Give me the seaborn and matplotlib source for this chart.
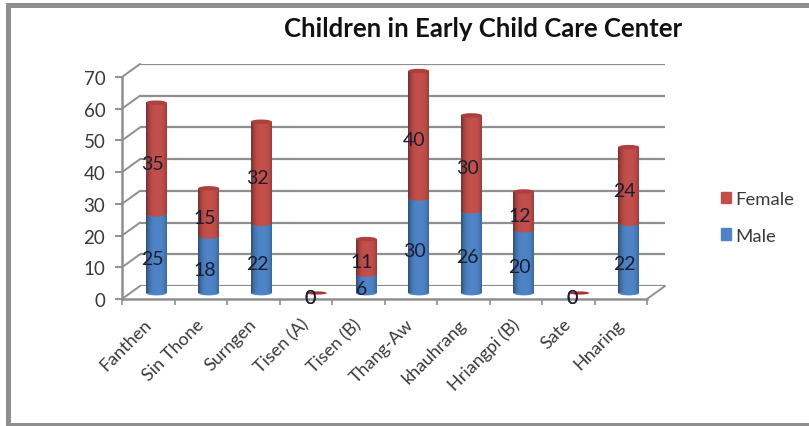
import numpy as np
import matplotlib
matplotlib.use("Agg")
import matplotlib.pyplot as plt
import seaborn as sns
from matplotlib.patches import Ellipse, Patch, Rectangle
from matplotlib.transforms import ScaledTranslation

centers = ["Fanthen", "Sin Thone", "Surngen", "Tisen (A)", "Tisen (B)", "Thang-Aw",
           "khauhrang", "Hriangpi (B)", "Sate", "Hnaring"]
male = [25, 18, 22, 0, 6, 30, 26, 20, 0, 22]
female = [35, 15, 32, 0, 11, 40, 30, 12, 0, 24]
y_ticks = [0, 10, 20, 30, 40, 50, 60, 70]

W, H = 809, 427
BLUE, RED = "#4e84c6", "#c34f4b"
TEXT, GRID = "#3a3a3a", "#8f8f8f"

sns.set_theme(style="white")
plt.rcParams["font.family"] = ["Lato", "DejaVu Sans"]

fig = plt.figure(figsize=(W / 100, H / 100), dpi=100, facecolor="white")


def box(left, right, top, bottom):
    return [left / W, (H - bottom) / H, (right - left) / W, (bottom - top) / H]


def panel(rect, **kw):
    ax = fig.add_axes(rect, **kw)
    ax.set_xlim(-0.5, 9.5)
    ax.set_ylim(0, 70)
    ax.patch.set_alpha(0)
    return ax


# Outer frame of the chart area
for l, r, t, b in [(6, 11, 4, 427), (6, 809, 4, 9), (6, 809, 424, 427)]:
    fig.add_artist(Rectangle((l / W, (H - b) / H), (r - l) / W, (b - t) / H,
                             transform=fig.transFigure, color="#8e8e8e", lw=0))

# Back wall with its gridlines, floor and front axis
back = panel(box(140, 665, 65, 287), zorder=1)
back.set_yticks(y_ticks)
back.grid(axis="y", color=GRID, lw=1.6)
back.set_xticks([])
back.set_yticklabels([])
back.tick_params(length=0)
sns.despine(ax=back, left=True, bottom=True)

front = panel(box(122, 647, 78, 300), zorder=2)
front.set_yticks(y_ticks)
front.set_xticks(range(len(centers)))
front.set_xticklabels(centers, rotation=45, ha="right", rotation_mode="anchor",
                      fontsize=13, color=TEXT)
front.set_xticks(np.arange(-0.5, 10), minor=True)
front.tick_params(axis="x", which="major", length=0, pad=12)
front.tick_params(axis="x", which="minor", length=4, color=GRID, width=1.2, bottom=True)
front.tick_params(axis="y", length=5, color=GRID, width=1.4, labelsize=13.5,
                  labelcolor=TEXT, pad=7, left=True)
# Nudge the slanted labels so their ends sit under the columns
shift_left = ScaledTranslation(-5 / 100, 0, fig.dpi_scale_trans)
for label in front.get_xticklabels():
    label.set_transform(label.get_transform() + shift_left)
sns.despine(ax=front)
for side in ("left", "bottom"):
    front.spines[side].set_color(GRID)
    front.spines[side].set_linewidth(1.8)

dx, dy = 18 / 52.5, 13 / (222 / 70)
for v in y_ticks:
    front.plot([-0.5, -0.5 + dx], [v, v + dy], color=GRID, lw=1.4, clip_on=False)
front.plot([9.5, 9.5 + dx], [0, dy], color=GRID, lw=1.4, clip_on=False)

# Stacked cylinders, set slightly into the depth of the floor
bars = panel(box(130, 655, 72, 294), zorder=3)
sns.barplot(x=centers, y=male, color=BLUE, saturation=1, width=0.4, linewidth=0, ax=bars)
sns.barplot(x=centers, y=female, bottom=male, color=RED, saturation=1, width=0.4, linewidth=0, ax=bars)

shade = np.zeros((1, 32, 4))
shade[0, :, 3] = 0.3 * np.abs(np.linspace(-1, 1, 32) - 0.1) ** 3
half = 0.2
for i, (m, f) in enumerate(zip(male, female)):
    total = m + f
    if total:
        bars.add_patch(Ellipse((i, 0), 2 * half, 1.5, color=BLUE if m else RED, lw=0,
                               zorder=1, clip_on=False))
        # Rounded seam where the two segments meet
        bars.add_patch(Ellipse((i, m), 2 * half, 1.8, color=RED, lw=0, zorder=2))
        bars.imshow(shade, extent=(i - half, i + half, 0, total), aspect="auto", zorder=3)
        bars.add_patch(Ellipse((i, total), 2 * half, 1.4, color="#ad403c", lw=0,
                               zorder=4, clip_on=False))
    else:
        # A column with no children shows only as a flattened disc
        bars.add_patch(Ellipse((i + 0.05, total), 2 * half, 1.0, color="#a8322e", lw=0,
                               zorder=4, clip_on=False))
    # Value labels on each segment
    for value, base in ((m, 0), (f, m)):
        bars.annotate(f"{value}", (i, base + value / 2), xytext=(-3, -3.6),
                      textcoords="offset points", ha="center", va="center",
                      fontsize=14, color="#1c1c30", zorder=5, annotation_clip=False)
bars.set_xlim(-0.5, 9.5)
bars.set_ylim(0, 70)
bars.axis("off")

fig.text(483 / W, (H - 29) / H, "Children in Early Child Care Center", ha="center", va="center",
         fontsize=18.5, fontweight="bold", color="#111111")

handles = [Patch(color=RED, label="Female"), Patch(color=BLUE, label="Male")]
fig.legend(handles=handles, loc="center left", bbox_to_anchor=(704 / W, (H - 218.5) / H), frameon=False,
           fontsize=13.3, labelcolor=TEXT, handlelength=0.55, handleheight=0.55,
           handletextpad=0.25, labelspacing=1.09)

fig.savefig("out.png", dpi=100)
